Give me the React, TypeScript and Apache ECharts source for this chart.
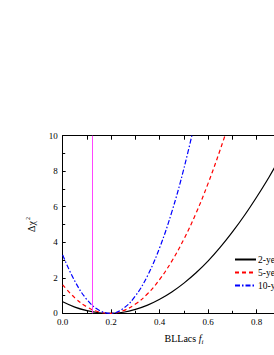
import React, { useEffect, useRef } from "react";
import * as echarts from "echarts";

const xValues = [0, 0.05, 0.1, 0.15, 0.2, 0.25, 0.3, 0.35, 0.4, 0.45, 0.5, 0.55, 0.6, 0.65, 0.7, 0.75, 0.8, 0.85, 0.9, 0.95];
const twoYear = [0.65, 0.35, 0.15, 0.03, 0, 0.06, 0.22, 0.46, 0.79, 1.2, 1.7, 2.28, 2.95, 3.72, 4.58, 5.52, 6.55, 7.65, 8.85, 10.1];
const fiveYear = [1.6, 0.87, 0.36, 0.07, 0.0, 0.15, 0.52, 1.1, 1.91, 2.94, 4.18, 5.64, 7.33, 9.23, 11.3];
const tenYear = [3.28, 1.81, 0.77, 0.17, 0.0, 0.27, 0.98, 2.12, 3.7, 5.71, 8.16, 11.05];
const seriesNames = ["2-year", "5-year", "10-year"];
const markerX = 0.12;

const FONT = "'Liberation Serif', 'DejaVu Serif', serif";
const CHART_W = 340;

function pairs(vals: number[]) {
  return vals.map((v, i) => [xValues[i], v]);
}

export default function App() {
  const ref = useRef<HTMLDivElement>(null);
  useEffect(() => {
    if (!ref.current) return;
    const chart = echarts.init(ref.current, null, { renderer: "svg" });
    const axisCommon = {
      axisLine: { show: true, onZero: false, lineStyle: { color: "#000", width: 1 } },
      splitLine: { show: false },
    };
    chart.setOption({
      animation: false,
      backgroundColor: "#fff",
      grid: { left: 62.7, top: 135.7, right: CHART_W - 305.2, bottom: 41.7, containLabel: false },
      legend: {
        orient: "vertical",
        left: 229,
        top: 249,
        itemWidth: 21,
        itemHeight: 8,
        itemGap: 2,
        data: seriesNames,
        itemStyle: { opacity: 0 },
        textStyle: { fontFamily: FONT, fontSize: 9.5, lineHeight: 11, color: "#000", padding: [0, 0, 0, -3] },
      },
      xAxis: [
        {
          type: "value",
          min: 0,
          max: 1,
          interval: 0.2,
          position: "bottom",
          ...axisCommon,
          axisTick: { show: true, inside: true, length: 4, lineStyle: { color: "#000" } },
          minorTick: { show: true, splitNumber: 2, length: 2.5, lineStyle: { color: "#000" } },
          axisLabel: {
            fontFamily: FONT,
            fontSize: 9,
            color: "#000",
            margin: 4,
            formatter: (v: number) => v.toFixed(1),
          },
          name: "{n|BLLacs }{f|f}{s|i}",
          nameLocation: "middle",
          nameGap: 19,
          nameTextStyle: {
            rich: {
              n: { fontFamily: FONT, fontSize: 10, color: "#000" },
              f: { fontFamily: FONT, fontSize: 10, fontStyle: "italic", color: "#000" },
              s: { fontFamily: FONT, fontSize: 7, fontStyle: "italic", color: "#000", padding: [6, 0, 0, 0] },
            },
          },
        },
        {
          type: "value",
          min: 0,
          max: 1,
          interval: 0.2,
          position: "top",
          ...axisCommon,
          axisTick: { show: true, inside: true, length: 4, lineStyle: { color: "#000" } },
          minorTick: { show: true, splitNumber: 2, length: 4, lineStyle: { color: "#000" } },
          axisLabel: { show: false },
        },
      ],
      yAxis: [
        {
          type: "value",
          min: 0,
          max: 10,
          interval: 2,
          position: "left",
          ...axisCommon,
          axisTick: { show: true, inside: true, length: 3, lineStyle: { color: "#000" } },
          minorTick: { show: true, splitNumber: 2, length: 2.5, lineStyle: { color: "#000" } },
          axisLabel: { fontFamily: FONT, fontSize: 9, color: "#000", margin: 5 },
          name: "{n|Δχ}{s|2}",
          nameLocation: "middle",
          nameRotate: 90,
          nameGap: 24,
          nameTextStyle: {
            rich: {
              n: { fontFamily: FONT, fontSize: 10, color: "#000" },
              s: { fontFamily: FONT, fontSize: 6, color: "#000", padding: [0, 0, 8, 1] },
            },
          },
        },
      ],
      series: [
        {
          name: seriesNames[0],
          type: "line",
          data: pairs(twoYear),
          smooth: 0.4,
          showSymbol: false,
          symbol: "none",
          color: "#000",
          lineStyle: { color: "#000", width: 1.2, type: "solid" },
          clip: true,
          markLine: {
            silent: true,
            symbol: "none",
            label: { show: false },
            lineStyle: { color: "#ff44ff", width: 1, type: "solid" },
            data: [{ xAxis: markerX }],
          },
        },
        {
          name: seriesNames[1],
          type: "line",
          data: pairs(fiveYear),
          smooth: 0.4,
          showSymbol: false,
          symbol: "none",
          color: "#ff0000",
          lineStyle: { color: "#ff0000", width: 1.2, type: [4, 3] },
          clip: true,
        },
        {
          name: seriesNames[2],
          type: "line",
          data: pairs(tenYear),
          smooth: 0.4,
          showSymbol: false,
          symbol: "none",
          color: "#0000ff",
          lineStyle: { color: "#0000ff", width: 1.2, type: [5, 2, 1.5, 2] },
          clip: true,
        },
      ],
    });
    return () => chart.dispose();
  }, []);
  return (
    <div style={{ position: "absolute", left: 0, top: 0, width: 274, height: 355, overflow: "hidden" }}>
      <div ref={ref} style={{ width: CHART_W, height: 355 }} />
    </div>
  );
}
